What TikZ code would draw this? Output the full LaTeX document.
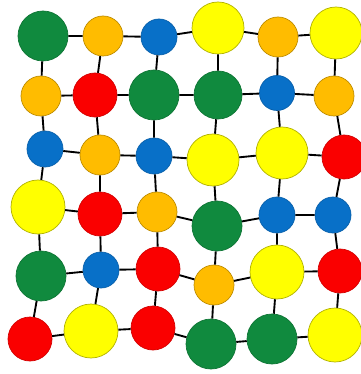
\documentclass[tikz,border=0pt]{standalone}
\usetikzlibrary{positioning}

\definecolor{dotgreen}{RGB}{16,138,62}
\definecolor{dotorange}{RGB}{255,188,0}
\definecolor{dotblue}{RGB}{8,112,200}
\definecolor{dotyellow}{RGB}{255,255,0}
\definecolor{dotred}{RGB}{250,0,0}

\begin{document}
\begin{tikzpicture}[
    x=0.03cm, y=-0.03cm,
    dot/.style={circle, inner sep=0pt, line width=0.6pt, minimum size=2*#1*0.03cm},
    gdot/.style={dot=#1, fill=dotgreen, draw=dotgreen!85!black},
    odot/.style={dot=#1, fill=dotorange, draw=dotorange!75!black},
    bdot/.style={dot=#1, fill=dotblue, draw=dotblue!85!black},
    ydot/.style={dot=#1, fill=dotyellow, draw=dotyellow!70!black},
    rdot/.style={dot=#1, fill=dotred, draw=dotred!85!black},
    link/.style={draw=black, line width=1.6pt}
]
\useasboundingbox (0,0) rectangle (360,374);

% ROW 1
\node[gdot=25] (n11) at (43,36) {};
\node[odot=20] (n12) at (103,36) {};
\node[bdot=18] (n13) at (159,37) {};
\node[ydot=26] (n14) at (218,28) {};
\node[odot=20] (n15) at (278,37) {};
\node[ydot=26] (n16) at (336,33) {};

% ROW 2
\node[odot=20] (n21) at (41,96) {};
\node[rdot=22] (n22) at (95,95) {};
\node[gdot=25] (n23) at (154,95) {};
\node[gdot=24] (n24) at (218,95) {};
\node[bdot=17.5] (n25) at (277,93) {};
\node[odot=20] (n26) at (334,96) {};

% ROW 3
\node[bdot=18] (n31) at (45,149) {};
\node[odot=20] (n32) at (100,155) {};
\node[bdot=18] (n33) at (154,156) {};
\node[ydot=26] (n34) at (213,160) {};
\node[ydot=26] (n35) at (282,153) {};
\node[rdot=22] (n36) at (344,157) {};

% ROW 4
\node[ydot=27] (n41) at (38,207) {};
\node[rdot=22] (n42) at (100,214) {};
\node[odot=20] (n43) at (157,212) {};
\node[gdot=25] (n44) at (217,226) {};
\node[bdot=18] (n45) at (277,215) {};
\node[bdot=18] (n46) at (333,215) {};

% ROW 5
\node[gdot=25] (n51) at (41,276) {};
\node[bdot=18] (n52) at (101,270) {};
\node[rdot=22] (n53) at (158,269) {};
\node[odot=20] (n54) at (214,285) {};
\node[ydot=27] (n55) at (277,272) {};
\node[rdot=22] (n56) at (340,271) {};

% ROW 6
\node[rdot=22] (n61) at (30,339) {};
\node[ydot=27] (n62) at (91,331) {};
\node[rdot=22] (n63) at (153,328) {};
\node[gdot=25] (n64) at (211,344) {};
\node[gdot=25] (n65) at (272,339) {};
\node[ydot=27] (n66) at (335,335) {};

% HORIZONTAL LINKS
\draw[link] (n11) -- (n12) -- (n13) -- (n14) -- (n15) -- (n16);
\draw[link] (n21) -- (n22) -- (n23) -- (n24) -- (n25) -- (n26);
\draw[link] (n31) -- (n32) -- (n33) -- (n34) -- (n35) -- (n36);
\draw[link] (n41) -- (n42) -- (n43) -- (n44) -- (n45) -- (n46);
\draw[link] (n51) -- (n52) -- (n53) -- (n54) -- (n55) -- (n56);
\draw[link] (n61) -- (n62) -- (n63) -- (n64) -- (n65) -- (n66);

% VERTICAL LINKS
\draw[link] (n11) -- (n21) -- (n31) -- (n41) -- (n51) -- (n61);
\draw[link] (n12) -- (n22) -- (n32) -- (n42) -- (n52) -- (n62);
\draw[link] (n13) -- (n23) -- (n33) -- (n43) -- (n53) -- (n63);
\draw[link] (n14) -- (n24) -- (n34) -- (n44) -- (n54) -- (n64);
\draw[link] (n15) -- (n25) -- (n35) -- (n45) -- (n55) -- (n65);
\draw[link] (n16) -- (n26) -- (n36) -- (n46) -- (n56) -- (n66);

\end{tikzpicture}
\end{document}
